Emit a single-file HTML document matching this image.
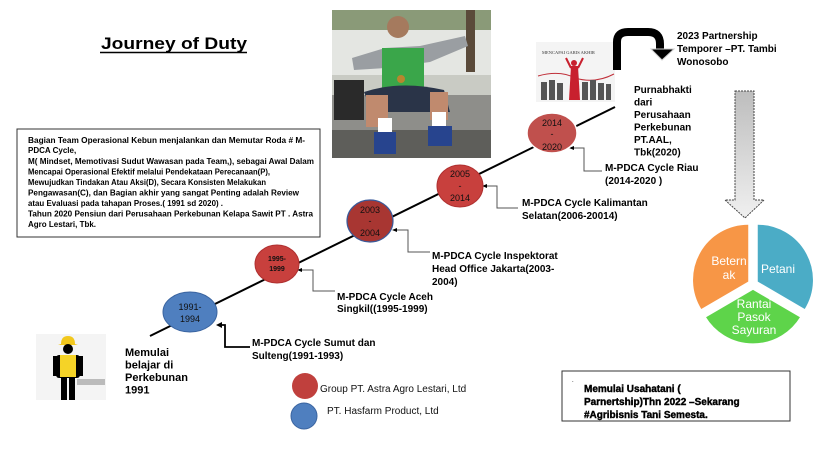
<!DOCTYPE html>
<html><head><meta charset="utf-8"><style>
html,body{margin:0;padding:0;background:#fff;}
svg{display:block;font-family:"Liberation Sans",Arial,sans-serif;}
.b{font-weight:bold;}
</style></head><body>
<svg width="832" height="467" viewBox="0 0 832 467" xmlns="http://www.w3.org/2000/svg">
<rect width="832" height="467" fill="#fff"/>
<!-- title -->
<text x="101" y="49" font-size="17" class="b" fill="#000" textLength="146" lengthAdjust="spacingAndGlyphs">Journey  of Duty</text>
<line x1="100" y1="52.5" x2="247" y2="52.5" stroke="#000" stroke-width="1.5"/>

<!-- text box -->
<rect x="17" y="129" width="303" height="108" fill="#fff" stroke="#333" stroke-width="1"/>
<g font-size="8" class="b" fill="#000">
<text x="28" y="143" textLength="277" lengthAdjust="spacingAndGlyphs">Bagian Team Operasional  Kebun menjalankan dan Memutar Roda  # M-</text>
<text x="28" y="153">PDCA Cycle,</text>
<text x="28" y="164" textLength="286" lengthAdjust="spacingAndGlyphs">M( Mindset, Memotivasi Sudut Wawasan pada Team,), sebagai  Awal Dalam</text>
<text x="28" y="174.5" textLength="242" lengthAdjust="spacingAndGlyphs">Mencapai Operasional Efektif melalui Pendekataan  Perecanaan(P),</text>
<text x="28" y="185" textLength="238" lengthAdjust="spacingAndGlyphs">Mewujudkan Tindakan Atau Aksi(D), Secara Konsisten Melakukan</text>
<text x="28" y="195.5" textLength="271" lengthAdjust="spacingAndGlyphs">Pengawasan(C), dan Bagian akhir yang sangat Penting adalah  Review</text>
<text x="28" y="206" textLength="195" lengthAdjust="spacingAndGlyphs">atau Evaluasi pada  tahapan Proses.( 1991 sd 2020) .</text>
<text x="28" y="216.5" textLength="285" lengthAdjust="spacingAndGlyphs">Tahun 2020 Pensiun dari Perusahaan Perkebunan Kelapa Sawit  PT . Astra</text>
<text x="28" y="227">Agro Lestari, Tbk.</text>
</g>

<!-- photo -->
<g>
<rect x="332" y="10" width="159" height="148" fill="#c9cbc4"/>
<rect x="332" y="10" width="159" height="22" fill="#8a9a78"/>
<rect x="332" y="30" width="159" height="45" fill="#e4e6e2"/>
<rect x="332" y="95" width="159" height="63" fill="#8e8e8a"/>
<rect x="332" y="130" width="159" height="28" fill="#5e5e5a"/>
<rect x="466" y="10" width="9" height="62" fill="#5a4a3a"/>
<rect x="334" y="80" width="30" height="40" fill="#2a2a2a"/>
<path d="M352 58 L385 48 L420 46 L465 36 L468 46 L430 62 L385 68 L354 70 Z" fill="#9a9ea2"/>
<rect x="382" y="48" width="42" height="44" fill="#3aa64a"/>
<circle cx="398" cy="27" r="11" fill="#a57a5e"/>
<circle cx="401" cy="79" r="4" fill="#b8862e"/>
<path d="M364 92 Q400 80 444 90 L450 112 L372 112 Z" fill="#2a3448"/>
<rect x="366" y="95" width="22" height="32" fill="#c08a6e"/>
<rect x="430" y="92" width="18" height="28" fill="#c08a6e"/>
<rect x="378" y="118" width="14" height="16" fill="#fff"/>
<rect x="432" y="112" width="14" height="16" fill="#fff"/>
<rect x="374" y="132" width="22" height="22" fill="#27448e"/>
<rect x="428" y="126" width="24" height="20" fill="#27448e"/>
</g>

<!-- timeline -->
<line x1="150" y1="336" x2="615" y2="107" stroke="#000" stroke-width="2"/>
<g fill="none" stroke="#555" stroke-width="1">
<polyline points="220,325 225,325 225,347 250,347" stroke="#000" stroke-width="1.8"/>
<polyline points="300,270 313,270 313,291 335,291"/>
<polyline points="395,230 408,230 408,252 430,252"/>
<polyline points="485,186 497,186 497,208 518,208"/>
<polyline points="572,148 584,148 584,171 602,171"/>
</g>
<g fill="#000">
<path d="M216 325 L222 322 L222 328 Z"/>
<path d="M297 270 L302 268 L302 272 Z"/>
<path d="M392 230 L397 228 L397 232 Z"/>
<path d="M482 186 L487 184 L487 188 Z"/>
<path d="M569 148 L574 146 L574 150 Z"/>
</g>
<ellipse cx="190" cy="312" rx="27" ry="20" fill="#4f7fbf" stroke="#3a64a0"/>
<text x="190" y="310" font-size="9" text-anchor="middle" fill="#111">1991-</text>
<text x="190" y="322" font-size="9" text-anchor="middle" fill="#111">1994</text>
<ellipse cx="277" cy="264" rx="22" ry="19" fill="#c8403d" stroke="#b03030"/>
<text x="277" y="261" font-size="7" class="b" text-anchor="middle" fill="#111">1995-</text>
<text x="277" y="271" font-size="7" class="b" text-anchor="middle" fill="#111">1999</text>
<ellipse cx="370" cy="221" rx="23" ry="21" fill="#a83632" stroke="#3a5a9a" stroke-width="1.2"/>
<text x="370" y="213" font-size="9" text-anchor="middle" fill="#111">2003</text>
<text x="370" y="224" font-size="9" text-anchor="middle" fill="#111">-</text>
<text x="370" y="236" font-size="9" text-anchor="middle" fill="#111">2004</text>
<ellipse cx="460" cy="186" rx="23" ry="21" fill="#c8403d" stroke="#b03030"/>
<text x="460" y="177" font-size="9" text-anchor="middle" fill="#111">2005</text>
<text x="460" y="189" font-size="9" text-anchor="middle" fill="#111">-</text>
<text x="460" y="201" font-size="9" text-anchor="middle" fill="#111">2014</text>
<ellipse cx="552" cy="133" rx="25" ry="20" fill="#c0504d" stroke="#fff" stroke-width="1.5"/>
<text x="552" y="126" font-size="9" text-anchor="middle" fill="#111">2014</text>
<text x="552" y="137" font-size="9" text-anchor="middle" fill="#111">-</text>
<text x="552" y="150" font-size="9" text-anchor="middle" fill="#111">2020</text>

<g font-size="10" class="b" fill="#000">
<text x="252" y="346">M-PDCA Cycle Sumut dan</text>
<text x="252" y="359">Sulteng(1991-1993)</text>
<text x="337" y="300">M-PDCA Cycle Aceh</text>
<text x="337" y="312">Singkil((1995-1999)</text>
<text x="432" y="259">M-PDCA Cycle  Inspektorat</text>
<text x="432" y="272">Head Office Jakarta(2003-</text>
<text x="432" y="285">2004)</text>
<text x="522" y="206">M-PDCA Cycle Kalimantan</text>
<text x="522" y="219">Selatan(2006-20014)</text>
<text x="605" y="171">M-PDCA Cycle  Riau</text>
<text x="605" y="184">(2014-2020 )</text>
<text x="634" y="93">Purnabhakti</text>
<text x="634" y="105.5">dari</text>
<text x="634" y="118">Perusahaan</text>
<text x="634" y="130.5">Perkebunan</text>
<text x="634" y="143">PT.AAL,</text>
<text x="634" y="155.5">Tbk(2020)</text>
<text x="677" y="39">2023 Partnership</text>
<text x="677" y="52">Temporer  –PT. Tambi</text>
<text x="677" y="65">Wonosobo</text>
</g>

<!-- mencapai image -->
<rect x="536" y="42" width="79" height="60" fill="#f4f4f4"/>
<text x="542" y="54" font-size="4.5" font-family="Liberation Serif,serif" fill="#333">MENCAPAI GARIS AKHIR</text>
<path d="M538 76 Q560 70 575 78 Q595 84 614 74" stroke="#c0303a" fill="none" stroke-width="1"/>
<g fill="#555">
<rect x="541" y="82" width="6" height="18"/><rect x="549" y="80" width="6" height="20"/><rect x="557" y="83" width="6" height="17"/>
<rect x="582" y="82" width="6" height="18"/><rect x="590" y="80" width="6" height="20"/><rect x="598" y="83" width="6" height="17"/><rect x="606" y="84" width="5" height="16"/>
</g>
<path d="M571 66 L578 66 L580 100 L569 100 Z" fill="#c8202e"/>
<circle cx="574" cy="63" r="3" fill="#c8202e"/>
<path d="M571 68 L566 58 M578 68 L583 58" stroke="#c8202e" stroke-width="2"/>

<!-- curved arrow -->
<path d="M617 70 L617 42 Q617 32 628 32 L648 32 Q660 32 660 44 L660 50" stroke="#000" stroke-width="8" fill="none"/>
<path d="M651 49 L674 49 L662 60 Z" fill="#000" stroke="#ccc" stroke-width="1"/>

<!-- gray arrow -->
<defs><linearGradient id="g" x1="0" y1="0" x2="0" y2="1"><stop offset="0" stop-color="#bdbdbd"/><stop offset="1" stop-color="#f0f0f0"/></linearGradient></defs>
<path d="M735 91 L754 91 L754 200 L764 200 L745 218 L725 200 L735 200 Z" fill="url(#g)" stroke="#444" stroke-width="1" stroke-dasharray="2,1"/>

<!-- pie -->
<path d="M757 282 L757 224 A56 56 0 0 1 805 310 Z" fill="#4bacc6" stroke="#fff" stroke-width="1.5"/>
<path d="M753 289 L801 317 A56 56 0 0 1 705 317 Z" fill="#5ed44a" stroke="#fff" stroke-width="1.5"/>
<path d="M749 282 L701 310 A56 56 0 0 1 749 224 Z" fill="#f79646" stroke="#fff" stroke-width="1.5"/>
<g font-size="12" fill="#fff" text-anchor="middle">
<text x="729" y="265">Betern</text>
<text x="729" y="279">ak</text>
<text x="778" y="273">Petani</text>
<text x="754" y="308">Rantai</text>
<text x="754" y="321">Pasok</text>
<text x="754" y="334">Sayuran</text>
</g>

<!-- worker -->
<rect x="36" y="334" width="70" height="66" fill="#f4f4f4"/>
<rect x="77" y="379" width="28" height="6" fill="#bbb"/>
<path d="M61 344 Q61 336 68 336 Q75 336 75 344 L78 345 L58 345 Z" fill="#f2c81e"/>
<circle cx="68" cy="349" r="5" fill="#000"/>
<rect x="56" y="355" width="24" height="23" rx="3" fill="#000"/>
<rect x="60" y="355" width="16" height="22" fill="#f5d327"/>
<rect x="53" y="356" width="4" height="20" fill="#000"/><rect x="79" y="356" width="4" height="20" fill="#000"/>
<rect x="61" y="377" width="6" height="23" fill="#000"/><rect x="69" y="377" width="6" height="23" fill="#000"/>

<g font-size="11" class="b" fill="#000">
<text x="125" y="356">Memulai</text>
<text x="125" y="368.5">belajar di</text>
<text x="125" y="381">Perkebunan</text>
<text x="125" y="393.5">1991</text>
</g>

<!-- legend -->
<circle cx="305" cy="386" r="13" fill="#c0403d"/>
<circle cx="304" cy="416" r="13" fill="#4f7fbf" stroke="#3a64a0"/>
<text x="320" y="392" font-size="10" fill="#111">Group PT. Astra Agro Lestari, Ltd</text>
<text x="327" y="414" font-size="10" fill="#111">PT. Hasfarm Product, Ltd</text>

<!-- bottom box -->
<rect x="562" y="371" width="228" height="50" fill="#fff" stroke="#333" stroke-width="1"/>
<text x="572" y="382" font-size="6">.</text>
<g font-size="10" class="b" fill="#000" stroke="#000" stroke-width="0.4">
<text x="584" y="392">Memulai Usahatani (</text>
<text x="584" y="405">Parnertship)Thn 2022 –Sekarang</text>
<text x="584" y="418">#Agribisnis Tani Semesta.</text>
</g>
</svg>
</body></html>
